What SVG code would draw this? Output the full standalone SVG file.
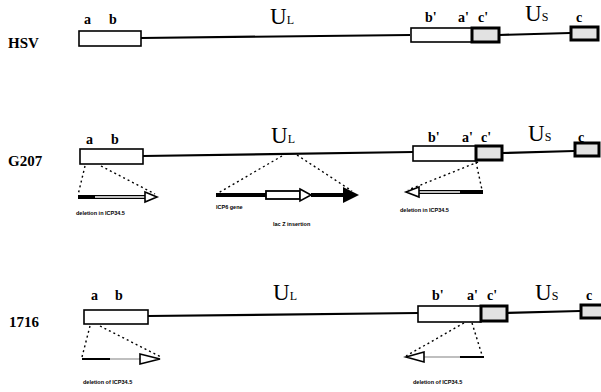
<svg xmlns="http://www.w3.org/2000/svg" width="601" height="392" viewBox="0 0 601 392">
<style>
.name{font-family:"Liberation Serif",serif;font-weight:bold;font-size:15px;fill:#000}
.lab{font-family:"Liberation Serif",serif;font-weight:bold;font-size:14px;fill:#000}
.u{font-family:"Liberation Serif",serif;font-size:23px;fill:#000}
.us{font-size:12px}
.tiny{font-family:"Liberation Sans",sans-serif;font-weight:bold;font-size:5.5px;fill:#000}
.box{fill:#fff;stroke:#000;stroke-width:1.6}
.dbox{fill:#e2e2e2;stroke:#000;stroke-width:3}
.line{stroke:#000;stroke-width:2.2;fill:none}
.dot{stroke:#000;stroke-width:1.4;stroke-dasharray:2 3;fill:none}
.thick{stroke:#000;stroke-width:4;fill:none}
.inner{stroke:#fff;stroke-width:1.5;fill:none}
.head{fill:#fff;stroke:#000;stroke-width:1.6}
</style>

<g id="hsv">
<text class="name" x="8" y="48">HSV</text>
<text class="lab" x="84" y="24">a</text>
<text class="lab" x="109" y="24">b</text>
<text class="u" x="270" y="24">U<tspan class="us">L</tspan></text>
<text class="lab" x="425" y="22">b'</text>
<text class="lab" x="458" y="22">a'</text>
<text class="lab" x="478" y="22">c'</text>
<text class="u" x="525" y="21">U<tspan class="us">S</tspan></text>
<text class="lab" x="576" y="22">c</text>
<rect class="box" x="79" y="31" width="62" height="15"/>
<path class="line" d="M141 38 L410 35"/>
<rect class="box" x="411" y="28" width="61" height="14"/>
<rect class="dbox" x="472" y="28" width="27" height="14"/>
<path class="line" d="M499 35 L570 33"/>
<rect class="dbox" x="571" y="27" width="27" height="13"/>
</g>

<g id="g207">
<text class="name" x="8" y="166">G207</text>
<text class="lab" x="86" y="144">a</text>
<text class="lab" x="111" y="144">b</text>
<text class="u" x="271" y="143">U<tspan class="us">L</tspan></text>
<text class="lab" x="428" y="142">b'</text>
<text class="lab" x="462" y="142">a'</text>
<text class="lab" x="481" y="142">c'</text>
<text class="u" x="528" y="141">U<tspan class="us">S</tspan></text>
<text class="lab" x="578" y="142">c</text>
<rect class="box" x="80" y="149" width="63" height="15"/>
<path class="line" d="M143 156 L413 152"/>
<rect class="box" x="413" y="146" width="63" height="15"/>
<rect class="dbox" x="476" y="146" width="26" height="14"/>
<path class="line" d="M502 153 L574 151"/>
<rect class="dbox" x="575" y="143" width="24" height="13"/>
</g>

<g id="g207-left-insert">
<path class="thick" d="M78 197 L146 197"/>
<path class="inner" d="M95 197 L146 197"/>
<polygon class="head" points="145,192 157,197 145,202"/>
<text class="tiny" x="76" y="215">deletion in ICP34.5</text>
</g>

<g id="g207-mid-insert">
<path class="thick" d="M216 195 L266 195"/>
<rect x="266" y="191" width="34" height="8" fill="#fff" stroke="#000" stroke-width="1.8"/>
<polygon class="head" points="300,189 311,195 300,201"/>
<path class="thick" d="M311 195 L345 195"/>
<polygon points="343,187 359,195 343,203" fill="#000"/>
<text class="tiny" x="216" y="209">ICP6 gene</text>
<text class="tiny" x="273" y="226">lac Z insertion</text>
</g>

<g id="g207-right-insert">
<path class="thick" d="M483 192 L418 192"/>
<path class="inner" d="M460 192 L418 192"/>
<polygon class="head" points="419,187 406,192 419,197"/>
<text class="tiny" x="400" y="212">deletion in ICP34.5</text>
</g>

<g id="r1716">
<text class="name" x="9" y="327">1716</text>
<text class="lab" x="91" y="300">a</text>
<text class="lab" x="115" y="300">b</text>
<text class="u" x="273" y="300">U<tspan class="us">L</tspan></text>
<text class="lab" x="432" y="300">b'</text>
<text class="lab" x="467" y="300">a'</text>
<text class="lab" x="487" y="300">c'</text>
<text class="u" x="535" y="300">U<tspan class="us">S</tspan></text>
<text class="lab" x="586" y="300">c</text>
<rect class="box" x="84" y="310" width="64" height="14"/>
<path class="line" d="M148 316 L418 313"/>
<rect class="box" x="418" y="306" width="63" height="16"/>
<rect class="dbox" x="481" y="306" width="26" height="15"/>
<path class="line" d="M507 313 L580 311"/>
<rect class="dbox" x="581" y="305" width="22" height="13"/>
</g>

<g id="r1716-left-insert">
<path class="line" d="M82 359 L142 359" stroke-width="3"/>
<path class="inner" d="M110 359 L142 359" stroke-width="1"/>
<polygon class="head" points="140,354 160,359 140,364"/>
<text class="tiny" x="83" y="384">deletion of ICP34.5</text>
</g>

<g id="r1716-right-insert">
<path class="line" d="M484 357 L424 357" stroke-width="3"/>
<path class="inner" d="M460 357 L424 357" stroke-width="1"/>
<polygon class="head" points="424,352 406,357 424,362"/>
<text class="tiny" x="413" y="384">deletion of ICP34.5</text>
</g>

<g id="connectors">
<path class="dot" d="M85 166 L78 195"/>
<path class="dot" d="M101 166 L155 194"/>
<path class="dot" d="M282 156 L218 193"/>
<path class="dot" d="M297 155 L352 191"/>
<path class="dot" d="M478 162 L408 190"/>
<path class="dot" d="M476 162 L482 190"/>
<path class="dot" d="M90 326 L82 357"/>
<path class="dot" d="M100 326 L161 357"/>
<path class="dot" d="M464 323 L406 356"/>
<path class="dot" d="M472 323 L482 355"/>
</g>
</svg>
